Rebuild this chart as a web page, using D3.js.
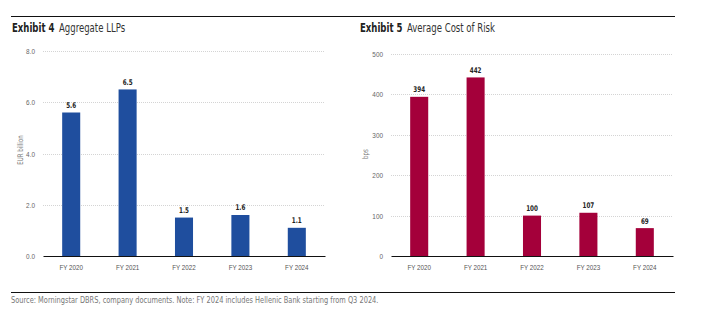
<!DOCTYPE html>
<html><head><meta charset="utf-8">
<script src="https://cdn.jsdelivr.net/npm/d3@7"></script>
<style>
html,body{margin:0;padding:0;background:#fff;}
svg{display:block;font-family:"Liberation Sans Narrow","Arial Narrow","DejaVu Sans Condensed",sans-serif;}
</style></head>
<body><svg id="c" width="719" height="326"></svg>
<script>
const categories = ["FY 2020","FY 2021","FY 2022","FY 2023","FY 2024"];
const llpValues = [5.6, 6.5, 1.5, 1.6, 1.1];
const llpLabels = ["5.6","6.5","1.5","1.6","1.1"];
const llpTicks = [0, 2, 4, 6, 8];
const corValues = [394, 442, 100, 107, 69];
const corTicks = [0, 100, 200, 300, 400, 500];
const sourceText = "Source: Morningstar DBRS, company documents. Note: FY 2024 includes Hellenic Bank starting from Q3 2024.";

const svg = d3.select("#c");

// horizontally squeeze text (narrow font emulation) about its anchor x
function squeeze(sel, s){
  sel.each(function(){
    const x = +this.getAttribute("x") || 0;
    const prev = this.getAttribute("transform") || "";
    this.setAttribute("transform", `${prev} translate(${x},0) scale(${s},1) translate(${-x},0)`.trim());
  });
}

// top and bottom rules
svg.append("line").attr("x1",11).attr("x2",675).attr("y1",16.5).attr("y2",16.5).attr("stroke","#111").attr("stroke-width",1.2);
svg.append("line").attr("x1",11).attr("x2",675).attr("y1",292.5).attr("y2",292.5).attr("stroke","#111").attr("stroke-width",1.2);
const src = svg.append("text").attr("x",11).attr("y",303).attr("font-size",8.8).attr("fill","#777").text(sourceText);
squeeze(src, 0.84);

function panel(opt){
  const g = svg.append("g");
  const t = g.append("text").attr("x",opt.tx).attr("y",32).attr("font-size",12.5).attr("fill","#222");
  t.append("tspan").attr("font-weight","bold").text(opt.ex);
  t.append("tspan").attr("dx",6).attr("fill","#333").text(opt.title);
  squeeze(t, 0.76);

  const x = d3.scaleBand().domain(categories).range([opt.x0, opt.x1]).paddingInner(0.68).paddingOuter(0.34);
  const y = d3.scaleLinear().domain(opt.domain).range([256, opt.yTop]);

  // grid
  g.append("g").selectAll("line").data(opt.ticks.filter(d=>d>0)).join("line")
    .attr("x1",opt.x0).attr("x2",opt.x1).attr("y1",d=>Math.round(y(d))+0.5).attr("y2",d=>Math.round(y(d))+0.5)
    .attr("stroke","#d4d4d4").attr("stroke-width",1).attr("stroke-dasharray","1,1");

  // y axis
  const ya = g.append("g").attr("transform",`translate(${opt.x0},0)`)
    .call(d3.axisLeft(y).tickValues(opt.ticks).tickFormat(opt.fmt).tickSize(0).tickPadding(opt.tickPad));
  ya.select(".domain").remove();
  ya.selectAll("text").attr("font-size",7.8).attr("fill","#666").attr("font-family",null);
  squeeze(ya.selectAll("text"), 0.82);

  // bars
  g.append("g").selectAll("rect").data(opt.values).join("rect")
    .attr("x",(d,i)=>x(categories[i])).attr("width",x.bandwidth())
    .attr("y",d=>y(d)).attr("height",d=>256-y(d)).attr("fill",opt.color);

  // value labels
  const vl = g.append("g").selectAll("text").data(opt.values).join("text")
    .attr("x",(d,i)=>x(categories[i])+x.bandwidth()/2).attr("y",d=>y(d)-4.5)
    .attr("text-anchor","middle").attr("font-size",7.8).attr("font-weight","bold").attr("fill","#222")
    .text((d,i)=>opt.labels ? opt.labels[i] : d);
  squeeze(vl, 0.8);

  // x axis
  const xa = g.append("g").attr("transform","translate(0,256)")
    .call(d3.axisBottom(x).tickSize(0).tickPadding(8));
  xa.select(".domain").attr("stroke","#111").attr("stroke-width",1.2);
  xa.selectAll("text").attr("font-size",7.8).attr("fill","#555").attr("font-family",null);
  squeeze(xa.selectAll("text"), 0.8);

  // y label
  const yl = g.append("text").attr("transform",`translate(${opt.lx},${opt.ly}) rotate(-90)`)
    .attr("text-anchor","middle").attr("font-size",7.8).attr("fill","#777").text(opt.ylabel);
  squeeze(yl, 0.78);
}

panel({tx:12, ex:"Exhibit 4", title:"Aggregate LLPs", x0:43, x1:325, domain:[0,8], yTop:51,
  ticks:llpTicks, fmt:d3.format(".1f"), values:llpValues, labels:llpLabels, color:"#1f4e9e",
  ylabel:"EUR billion", lx:23, ly:150, tickPad:8});
panel({tx:360, ex:"Exhibit 5", title:"Average Cost of Risk", x0:391, x1:673, domain:[0,500], yTop:54,
  ticks:corTicks, fmt:d3.format("d"), values:corValues, labels:null, color:"#a4003a",
  ylabel:"bps", lx:368, ly:154, tickPad:8});
</script></body></html>
